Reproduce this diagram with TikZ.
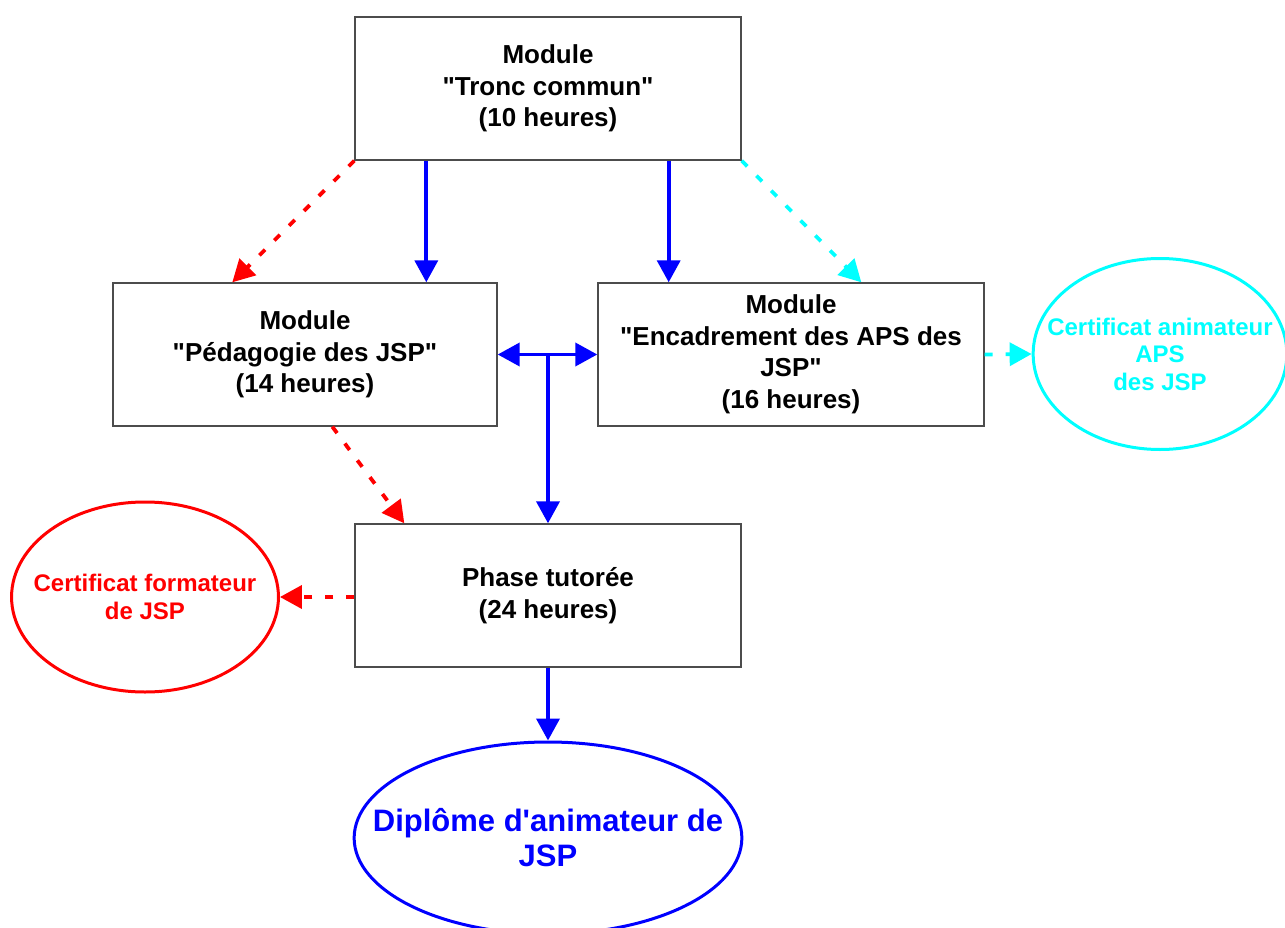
\documentclass[tikz,border=0pt]{standalone}
\usepackage{fontspec}
\setmainfont{Liberation Sans}[Ligatures=TeXOff]
\usetikzlibrary{shapes.geometric, arrows.meta, positioning}
\definecolor{certcyan}{RGB}{0,255,255}

\begin{document}
\begin{tikzpicture}[x=1pt, y=-1pt,
  modbox/.style={draw=black!70, line width=1.4pt, minimum width=386pt, minimum height=143pt, align=center, inner sep=0pt, font=\fontsize{26}{31.5}\selectfont\bfseries},
  certbox/.style={ellipse, line width=3pt, align=center, inner ysep=0pt, font=\fontsize{24}{27.5}\selectfont\bfseries},
  tip/.style={-{Triangle[length=22pt, width=23pt]}},
  bluearr/.style={tip, draw=blue, line width=3.8pt},
  redarr/.style={tip, draw=red, line width=3.8pt, dash pattern=on 8pt off 13pt},
  cyanarr/.style={tip, draw=certcyan, line width=3.8pt, dash pattern=on 8pt off 13pt}
]
  \useasboundingbox (0,0) rectangle (1285,928);

  % modules
  \node[modbox] (tronc) at (548, 88.5) {Module\\"Tronc commun"\\(10 heures)};
  \node[modbox, minimum width=384pt] (peda) at (305, 354.5) {Module\\"Pédagogie des JSP"\\(14 heures)};
  \node[modbox] (encad) at (791, 354.5) {Module\\"Encadrement des APS des\\JSP"\\(16 heures)};
  \node[modbox] (phase) at (548, 595.5) {Phase tutorée\\(24 heures)};

  % certificats et diplome
  \node[certbox, draw=certcyan, text=certcyan, inner xsep=-23pt, minimum height=191pt] (certa) at (1160, 354) {Certificat animateur\\APS\\des JSP};
  \node[certbox, draw=red, text=red, inner xsep=-17pt, minimum height=190pt] (certf) at (145, 597) {Certificat formateur\\de JSP};
  \node[certbox, draw=blue, text=blue, inner xsep=-38pt, minimum height=192pt, font=\fontsize{31}{35}\selectfont\bfseries] (dipl) at (548, 838) {Diplôme d'animateur de\\JSP};

  % connecteurs
  \draw[redarr] (tronc.south west) -- ([xshift=120pt]peda.north west);
  \draw[bluearr] ([xshift=72pt]tronc.south west) -- ([xshift=72pt]tronc.south west |- peda.north);
  \draw[bluearr] ([xshift=-73pt]tronc.south east) -- ([xshift=-73pt]tronc.south east |- encad.north);
  \draw[cyanarr] (tronc.south east) -- ([xshift=264pt]encad.north west);
  \draw[bluearr, {Triangle[length=22pt, width=23pt]}-{Triangle[length=22pt, width=23pt]}] (peda.east) -- (encad.west);
  \draw[bluearr] (phase.north |- peda.east) -- (phase.north);
  \draw[redarr] ([xshift=220pt]peda.south west) -- ([xshift=50pt]phase.north west);
  \draw[cyanarr] (encad.east) -- (certa.west);
  \draw[redarr] (phase.west |- certf.east) -- (certf.east);
  \draw[bluearr] (phase.south) -- (dipl.north);
\end{tikzpicture}
\end{document}
